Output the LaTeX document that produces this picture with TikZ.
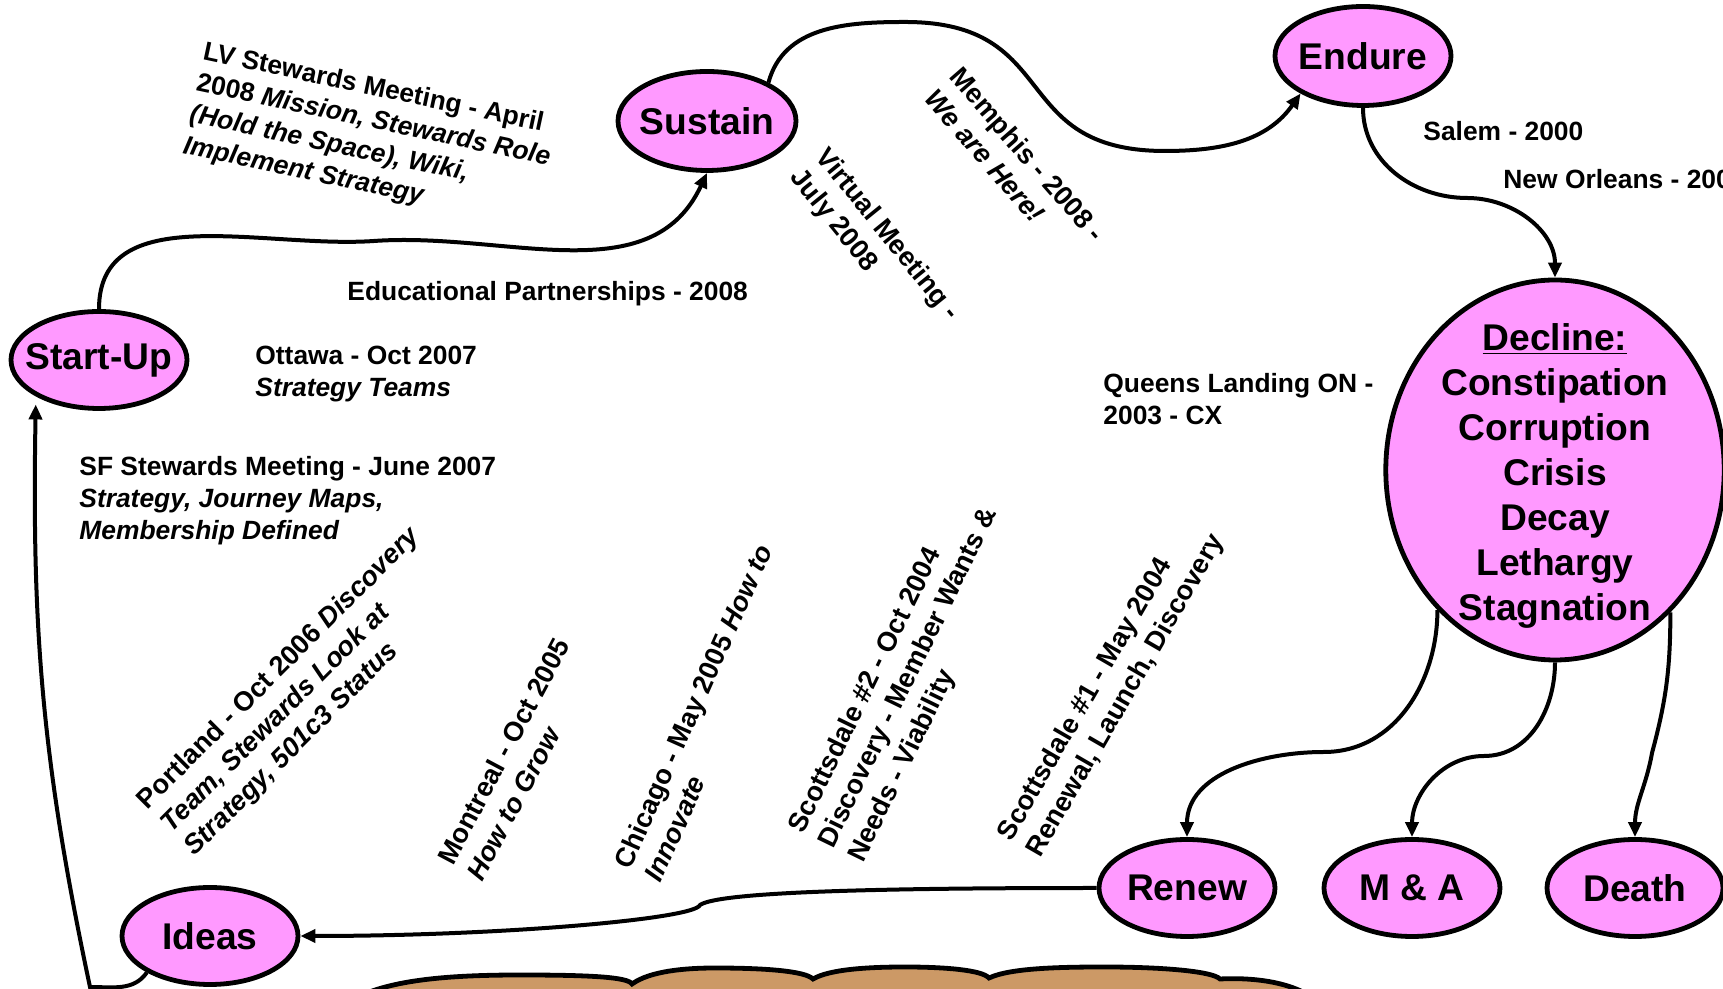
\documentclass[tikz,border=0pt]{standalone}
\usepackage{fontspec}
\setmainfont{Liberation Sans}
\usepackage{tikz}
\usetikzlibrary{arrows.meta,positioning,shapes.geometric}
\usepackage{xcolor}
\definecolor{stagePink}{HTML}{FF99FF}
\definecolor{cloudTan}{HTML}{CC9966}
\tikzset{
    stage/.style={
        ellipse,
        draw=black,
        line width=2.4pt,
        fill=stagePink,
        align=center,
        inner sep=-9pt,
        minimum width=88pt,
        minimum height=48.5pt,
        font=\fontsize{18.6}{22.5}\selectfont\bfseries
    },
    note/.style={
        align=left,
        inner sep=0pt,
        font=\fontsize{13.2}{16}\selectfont\bfseries
    },
    slanted/.style={
        note,
        font=\fontsize{13.6}{16.5}\selectfont\bfseries
    },
    arrow/.style={-{Triangle[length=7.5pt,width=6.5pt]},line width=2pt,draw=black}
}

\begin{document}
\begin{tikzpicture}[x=0.5pt,y=0.5pt]
    \useasboundingbox (0,0) rectangle (1723,989);
    \clip (0,0) rectangle (1723,989);

    \draw[line width=2.4pt, fill=cloudTan] (345,-15)
        .. controls (380,8) and (440,14) .. (520,14)
        .. controls (590,14) and (628,12) .. (632,5)
        .. controls (650,18) and (685,21) .. (715,21)
        .. controls (765,21) and (805,18) .. (813,10)
        .. controls (830,20) and (870,22) .. (905,22)
        .. controls (945,22) and (982,19) .. (989,11)
        .. controls (1010,21) and (1060,22) .. (1105,22)
        .. controls (1160,22) and (1212,18) .. (1220,10)
        .. controls (1260,12) and (1300,5) .. (1320,-15) -- cycle;

    \node[stage] (startup) at (99,629) {Start-Up};
    \node[stage, minimum width=89pt, minimum height=49.5pt] (sustain) at (707,868) {Sustain};
    \node[stage, minimum height=49.5pt] (endure) at (1363,933) {Endure};
    \node[stage, minimum width=168pt, minimum height=190pt, inner xsep=3pt, inner ysep=-13pt]
        (decline) at (1555,519)
        {\rule{0pt}{19.5pt}\underline{Decline:}\\Constipation\\Corruption\\Crisis\\Decay\\Lethargy\\Stagnation};
    \node[stage] (renew) at (1187,101) {Renew};
    \node[stage] (mna) at (1412,101) {M \& A};
    \node[stage] (death) at (1635,101) {Death};
    \node[stage] (ideas) at (210,53) {Ideas};

    \node[note, anchor=west] (edu) at (347,695) {Educational Partnerships - 2008};
    \node[note, anchor=west] (ottawa) at (255,615) {Ottawa - Oct 2007\\\textit{Strategy Teams}};
    \node[note, anchor=west] (sfmeet) at (79,488)
        {SF Stewards Meeting - June 2007\\\textit{Strategy, Journey Maps,}\\\textit{Membership Defined}};
    \node[note, anchor=west] (queens) at (1103,590) {Queens Landing ON -\\2003 - CX};
    \node[note, anchor=west] (salem) at (1423,858) {Salem - 2000};
    \node[note, anchor=west] (orleans) at (1503,810) {New Orleans - 200};

    \node[note, rotate=-12] (lvmeet) at (370,852)
        {LV Stewards Meeting - April\\2008 \textit{Mission, Stewards Role}\\\textit{(Hold the Space), Wiki,}\\\textit{Implement Strategy}};
    \node[slanted, rotate=-49] (memphis) at (1015,824) {Memphis - 2008 -\\\textit{We are Here!}};
    \node[slanted, rotate=-51] (virtual) at (874,744) {Virtual Meeting -\\July 2008};
    \node[slanted, rotate=45] (portland) at (303,297)
        {Portland - Oct 2006 \textit{Discovery}\\\textit{Team, Stewards Look at}\\\textit{Strategy, 501c3 Status}};
    \node[slanted, rotate=62] (montreal) at (518,230) {Montreal - Oct 2005\\\textit{How to Grow}};
    \node[slanted, rotate=66] (chicago) at (708,276) {Chicago - May 2005 \textit{How to}\\\textit{Innovate}};
    \node[slanted, rotate=64] (scotttwo) at (909,311)
        {Scottsdale \#2 - Oct 2004\\Discovery - Member Wants \&\\Needs - Viability};
    \node[slanted, rotate=60] (scottone) at (1112,301)
        {Scottsdale \#1 - May 2004\\Renewal, Launch, Discovery};

    \coordinate (bend1) at (374,748);
    \coordinate (hump) at (905,967);
    \coordinate (dip) at (1165,838);
    \coordinate (bend2) at (1467,791);
    \coordinate (bend3) at (1324,237);
    \coordinate (bend4) at (1484,233);
    \coordinate (bend5) at (1652,236);
    \coordinate (kink) at (700,84);
    \coordinate (corner) at (90,2);

    \draw[arrow] (startup.north) to[out=90,in=184] (bend1) to[out=4,in=-115] (sustain.south);
    \draw[arrow] (sustain.32) to[out=75,in=180] (hump) to[out=0,in=180,looseness=1.4] (dip) to[out=0,in=-125] (endure.-149);
    \draw[arrow] (endure.south) to[out=-90,in=180] (bend2) to[out=0,in=90] (decline.north);
    \draw[arrow] (decline.-130) to[out=-90,in=0] (bend3) to[out=180,in=90] (renew.north);
    \draw[arrow] (decline.south) to[out=-90,in=0] (bend4) to[out=180,in=90] (mna.north);
    \draw[arrow] (decline.-51) to[out=-90,in=75] (bend5) to[out=-100,in=90] (death.north);
    \draw[arrow] (renew.west) .. controls (900,101) and (720,98) .. (kink)
        .. controls (695,70) and (500,53) .. (ideas.east);
    \draw[arrow, shorten >=4pt] (ideas.-150) to[out=-125,in=0] (corner) to[out=102,in=-91] (startup.-150);
\end{tikzpicture}
\end{document}
